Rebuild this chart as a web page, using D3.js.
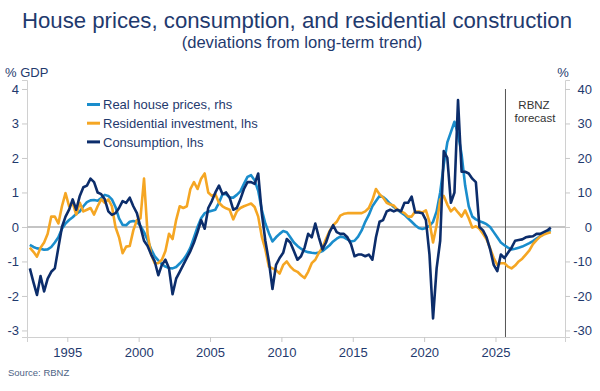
<!DOCTYPE html>
<html>
<head>
<meta charset="utf-8">
<script src="https://cdn.jsdelivr.net/npm/d3@7"></script>
<style>
  html, body { margin: 0; padding: 0; background: #ffffff; }
  svg { display: block; }
  text { font-family: "Liberation Sans", Arial, sans-serif; }
</style>
</head>
<body>
<svg id="chart" width="600" height="391"></svg>
<script>
// ---------------- DATA ----------------
const firstYear = 1992;          // first observation: 1992 Q2
const firstQuarter = 2;
const xTickYears = [1995, 2000, 2005, 2010, 2015, 2020, 2025];
const leftTicks = [-3, -2, -1, 0, 1, 2, 3, 4];
const rightTicks = [-30, -20, -10, 0, 10, 20, 30, 40];
const forecastStart = 2025.7;

// Real house prices, % deviation (rhs)
const housePrices = [
  -5.2,-5.8,-6.2,-6.3,-6.6,-6.5,-5.8,-4.5, -3.0,-0.5,1.0,2.0,2.8,3.8,4.5,6.0,
  7.2,7.7,7.8,7.6,8.4,9.3,9.0,8.0, 5.8,2.5,0.6,0.5,1.5,1.7,1.5,0.3,
  -1.5,-3.8,-6.5,-8.5,-9.7, -10.8,-11.5,-11.9,-12.0,-11.6, -10.6,-9.5,-8.0,-6.0,-3.0, 0.0,2.5,4.0,4.4,4.7,
  5.0,7.0,9.5,9.5,8.5, 8.5,9.3,10.3,12.5,14.5, 15.0,13.5,10.5,5.0,1.0,
  -1.8,-4.2,-3.0,-2.0,-1.2, -1.5,-3.0,-4.5,-5.5,-6.3, -7.0,-7.3,-7.5,-7.6,-7.4,
  -7.0,-6.2,-5.3,-4.2,-3.4, -2.8,-3.0,-3.6,-4.2,-4.0, -2.8,-1.0,1.5,3.5,6.0, 7.5,9.0,8.7,7.8,6.7,
  5.8,5.0,4.2,3.5,2.5, 1.5,0.5,-0.3,-0.6,-0.3, 0.3,1.5,4.5,10.0,18.0,
  24.5,27.5,30.5,27.0,21.0, 12.0,6.0,3.0,2.2,1.7, 1.3,0.8,0.0,-1.5,
  -3.0,-4.5,-5.3,-6.0,-6.5, -6.3,-6.0,-5.7,-5.2,-4.7, -4.1,-3.4,-2.7,-2.0,-1.4, -0.9
];

// Residential investment, % GDP deviation (lhs)
const residential = [
  -0.6,-0.72,-0.86,-0.6,-0.45,-0.2,0.3,0.3, 0.1,0.6,0.98,0.6,0.7,0.36,0.7,0.45,
  0.5,0.55,0.36,0.6,0.8,0.7,0.8,0.6, 0.0,-0.3,-0.76,-0.57,-0.55,-0.1,0.2,0.25,
  1.4,-0.2,-0.8,-1.05,-1.05, -0.95,-0.7,-0.2,-0.35,0.2, 0.6,0.55,0.6,1.1,1.3, 1.1,1.4,1.55,1.0,0.9,
  0.95,0.7,0.6,0.54,0.5, 0.22,0.45,0.55,0.6,0.64, 0.68,0.58,0.3,-0.28,-0.65,
  -1.15,-1.2,-1.25,-1.35,-1.1, -1.0,-1.15,-1.25,-1.3,-1.4, -1.48,-1.3,-1.05,-0.95,-0.75,
  -0.6,-0.35,-0.12,0.05,0.15, 0.33,0.38,0.4,0.4,0.4, 0.4,0.4,0.45,0.55,0.78, 1.1,0.95,0.85,0.7,0.65,
  0.62,0.5,0.45,0.4,0.3, 0.3,0.45,0.45,0.42,0.48, 0.15,-0.45,0.05,0.8,0.9,
  0.65,0.45,0.55,0.42,0.3, 0.48,0.25,-0.02,0.02,-0.05, -0.2,-0.36,-0.62,-0.9,
  -1.1,-1.05,-1.05,-1.15,-1.2, -1.12,-1.0,-0.92,-0.8,-0.68, -0.5,-0.38,-0.28,-0.22,-0.18, -0.15
];

// Consumption, % GDP deviation (lhs)
const consumption = [
  -1.2,-1.6,-1.97,-1.42,-1.87,-1.5,-1.3,-1.2, -0.6,0.0,0.3,0.5,0.8,0.5,0.9,1.15,
  1.2,1.4,1.3,1.0,0.95,0.8,0.45,0.35, 0.4,0.55,0.75,0.7,0.85,0.6,0.4,0.0,
  -0.4,-0.55,-0.8,-1.0,-1.4, -1.1,-0.95,-1.2,-1.95,-1.5, -1.3,-1.1,-0.9,-0.7,-0.45, -0.15,0.2,-0.05,0.55,0.75,
  1.0,1.2,0.95,1.0,0.85, 0.5,0.55,0.8,1.1,1.3, 1.3,1.25,1.55,0.4,-0.4,
  -1.0,-1.8,-1.1,-0.9,-0.75, -0.35,-0.45,-0.7,-0.95,-0.85, -0.6,-0.2,-0.3,0.1,-0.3,
  -0.65,-0.45,-0.15,0.05,-0.15, -0.2,-0.2,-0.3,-0.5,-0.85, -0.8,-0.8,-0.85,-0.8,-0.95, -0.3,0.15,0.2,0.45,0.5,
  0.45,0.5,0.45,0.7,0.7, 0.88,0.42,0.42,0.4,0.2, -0.8,-2.65,-1.2,-0.4,2.2,
  2.0,0.7,1.0,3.68,1.6, 1.6,1.55,1.4,1.3,0.0, -0.1,-0.3,-0.65,-1.1,
  -1.28,-0.8,-0.9,-0.75,-0.6, -0.4,-0.38,-0.36,-0.3,-0.28, -0.27,-0.2,-0.2,-0.15,-0.1, -0.02
];

const seriesInfo = [
  { name: "Real house prices, rhs",        color: "#1a8dcc", values: housePrices, axis: "right" },
  { name: "Residential investment, lhs",   color: "#f5a623", values: residential, axis: "left" },
  { name: "Consumption, lhs",              color: "#0c2d6b", values: consumption, axis: "left" }
];

// quarter dates (decimal year, mid-quarter)
const dates = housePrices.map((_, i) => {
  const qIndex = (firstQuarter - 1) + i;
  return firstYear + Math.floor(qIndex / 4) + ((qIndex % 4) + 0.5) / 4;
});

// ---------------- LAYOUT ----------------
const svg = d3.select("#chart");
const navy = "#1f3a6e";
const plot = { left: 27, right: 565, top: 80, bottom: 337 };

const x = d3.scaleLinear().domain([1992.176, 2029.87]).range([plot.left, plot.right]);
const yL = d3.scaleLinear().domain([-3.19, 4.26]).range([plot.bottom, plot.top]);
const yR = d3.scaleLinear().domain([-31.9, 42.6]).range([plot.bottom, plot.top]);

svg.append("rect").attr("width", 600).attr("height", 391).attr("fill", "#fff");

// Title
svg.append("text").attr("x", 297).attr("y", 28).attr("text-anchor", "middle")
  .attr("font-size", 22.2).attr("fill", navy)
  .text("House prices, consumption, and residential construction");
svg.append("text").attr("x", 302).attr("y", 48).attr("text-anchor", "middle")
  .attr("font-size", 16.6).attr("fill", navy)
  .text("(deviations from long-term trend)");

// axis unit labels
svg.append("text").attr("x", 5).attr("y", 77).attr("font-size", 13).attr("fill", navy).text("% GDP");
svg.append("text").attr("x", 563).attr("y", 77).attr("font-size", 13).attr("fill", navy)
  .attr("text-anchor", "middle").text("%");

// Left axis
const leftAxis = d3.axisLeft(yL).tickValues(leftTicks).tickSize(5).tickPadding(3).tickFormat(d3.format("d"));
const gL = svg.append("g").attr("transform", `translate(${plot.left},0)`).call(leftAxis);
gL.select(".domain").attr("stroke", "#d0d0d0").attr("stroke-width", 1);
gL.selectAll(".tick line").attr("stroke", "#c8c8c8");
gL.selectAll(".tick text").attr("font-size", 13).attr("fill", navy)
  .attr("font-family", "Liberation Sans, Arial, sans-serif").text(d => d < 0 ? "-" + Math.abs(d) : d);

// Right axis
const rightAxis = d3.axisRight(yR).tickValues(rightTicks).tickSize(5).tickPadding(8).tickFormat(d3.format("d"));
const gR = svg.append("g").attr("transform", `translate(${plot.right},0)`).call(rightAxis);
gR.select(".domain").attr("stroke", "#d0d0d0").attr("stroke-width", 1);
gR.selectAll(".tick line").attr("stroke", "#c8c8c8");
gR.selectAll(".tick text").attr("font-size", 13).attr("fill", navy)
  .attr("font-family", "Liberation Sans, Arial, sans-serif")
  .attr("text-anchor", "end").attr("x", 27).text(d => d < 0 ? "-" + Math.abs(d) : d);

// Bottom axis
const bottomAxis = d3.axisBottom(x).tickValues(xTickYears).tickSize(5).tickPadding(6).tickFormat(d3.format("d"));
const gB = svg.append("g").attr("transform", `translate(0,${plot.bottom})`).call(bottomAxis);
gB.select(".domain").attr("stroke", "#d0d0d0").attr("stroke-width", 1);
gB.selectAll(".tick line").attr("stroke", "#c8c8c8");
gB.selectAll(".tick text").attr("font-size", 13).attr("fill", navy)
  .attr("font-family", "Liberation Sans, Arial, sans-serif");

// zero line
svg.append("line").attr("x1", plot.left).attr("x2", plot.right)
  .attr("y1", yL(0)).attr("y2", yL(0)).attr("stroke", "#c4c4c4").attr("stroke-width", 2);

// forecast divider
svg.append("line").attr("x1", x(forecastStart)).attr("x2", x(forecastStart))
  .attr("y1", 89).attr("y2", plot.bottom).attr("stroke", "#555").attr("stroke-width", 1);
svg.append("text").attr("x", 534).attr("y", 109).attr("text-anchor", "middle")
  .attr("font-size", 11.5).attr("fill", "#333").text("RBNZ");
svg.append("text").attr("x", 535).attr("y", 122).attr("text-anchor", "middle")
  .attr("font-size", 11.5).attr("fill", "#333").text("forecast");

// lines
seriesInfo.forEach(s => {
  const yScale = s.axis === "right" ? yR : yL;
  const line = d3.line().x((d, i) => x(dates[i])).y(d => yScale(d));
  svg.append("path").datum(s.values).attr("d", line)
    .attr("fill", "none").attr("stroke", s.color).attr("stroke-width", 2.6)
    .attr("stroke-linejoin", "round");
});

// legend
const legend = svg.append("g");
seriesInfo.forEach((s, i) => {
  const cy = 104.5 + i * 18.7;
  legend.append("line").attr("x1", 87).attr("x2", 100).attr("y1", cy).attr("y2", cy)
    .attr("stroke", s.color).attr("stroke-width", 3);
  legend.append("text").attr("x", 103).attr("y", cy + 4.6).attr("font-size", 13)
    .attr("fill", navy).text(s.name);
});

// source
svg.append("text").attr("x", 8).attr("y", 376).attr("font-size", 9.5).attr("fill", "#4d6385")
  .text("Source: RBNZ");
</script>
</body>
</html>
